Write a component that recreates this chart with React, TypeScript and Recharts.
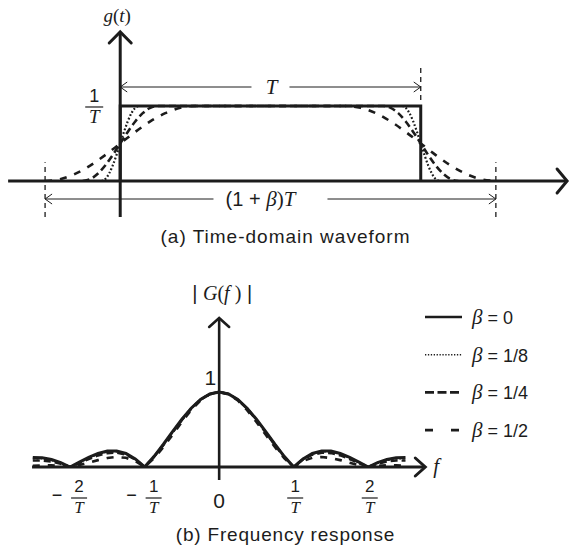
import React from "react";
import { Legend, Line, LineChart, ReferenceDot, ReferenceLine, XAxis, YAxis } from "recharts";

const SERIF = '"Liberation Serif", "DejaVu Serif", serif';
const SANS = '"Liberation Sans", Arial, sans-serif';
const INK = "#1c1c1c";

// (a) time-domain pulse: t in units of T, g in units of 1/T
const tBeta0 = [0, 0, 1, 1];
const gBeta0 = [0, 1, 1, 0];
const tBeta8 = [-0.0625, -0.05, -0.0375, -0.025, -0.0125, 0, 0.0125, 0.025, 0.0375, 0.05, 0.0625, 0.9375, 0.95, 0.9625, 0.975, 0.9875, 1, 1.0125, 1.025, 1.0375, 1.05, 1.0625];
const tBeta4 = [-0.125, -0.1, -0.075, -0.05, -0.025, 0, 0.025, 0.05, 0.075, 0.1, 0.125, 0.875, 0.9, 0.925, 0.95, 0.975, 1, 1.025, 1.05, 1.075, 1.1, 1.125];
const tBeta2 = [-0.25, -0.2, -0.15, -0.1, -0.05, 0, 0.05, 0.1, 0.15, 0.2, 0.25, 0.75, 0.8, 0.85, 0.9, 0.95, 1, 1.05, 1.1, 1.15, 1.2, 1.25];
const gEdges = [0, 0.0245, 0.0955, 0.2061, 0.3455, 0.5, 0.6545, 0.7939, 0.9045, 0.9755, 1, 1, 0.9755, 0.9045, 0.7939, 0.6545, 0.5, 0.3455, 0.2061, 0.0955, 0.0245, 0];

// (b) |G(f)|, f in units of 1/T
const fAxis = [-2.5, -2.375, -2.25, -2.125, -2, -1.875, -1.75, -1.625, -1.5, -1.375, -1.25, -1.125, -1, -0.875, -0.75, -0.625, -0.5, -0.375, -0.25, -0.125, 0, 0.125, 0.25, 0.375, 0.5, 0.625, 0.75, 0.875, 1, 1.125, 1.25, 1.375, 1.5, 1.625, 1.75, 1.875, 2, 2.125, 2.25, 2.375, 2.5];
const magBeta0 = [0.1273, 0.1238, 0.1, 0.0573, 0, 0.065, 0.1286, 0.181, 0.2122, 0.2139, 0.1801, 0.1083, 0, 0.1392, 0.3001, 0.4705, 0.6366, 0.7842, 0.9003, 0.9745, 1, 0.9745, 0.9003, 0.7842, 0.6366, 0.4705, 0.3001, 0.1392, 0, 0.1083, 0.1801, 0.2139, 0.2122, 0.181, 0.1286, 0.065, 0, 0.0573, 0.1, 0.1238, 0.1273];
const magBeta8 = [0.1161, 0.1139, 0.0928, 0.0536, 0, 0.0617, 0.1229, 0.1741, 0.2053, 0.208, 0.176, 0.1063, 0, 0.1376, 0.2976, 0.4678, 0.6343, 0.7826, 0.8995, 0.9743, 1, 0.9743, 0.8995, 0.7826, 0.6343, 0.4678, 0.2976, 0.1376, 0, 0.1063, 0.176, 0.208, 0.2053, 0.1741, 0.1229, 0.0617, 0, 0.0536, 0.0928, 0.1139, 0.1161];
const magBeta4 = [0.0866, 0.0876, 0.0734, 0.0436, 0, 0.0526, 0.107, 0.1546, 0.1856, 0.1912, 0.1642, 0.1005, 0, 0.1331, 0.2904, 0.4599, 0.6274, 0.7778, 0.897, 0.9736, 1, 0.9736, 0.897, 0.7778, 0.6274, 0.4599, 0.2904, 0.1331, 0, 0.1005, 0.1642, 0.1912, 0.1856, 0.1546, 0.107, 0.0526, 0, 0.0436, 0.0734, 0.0876, 0.0866];
const magBeta2 = [0.0171, 0.0222, 0.0227, 0.016, 0, 0.0253, 0.0576, 0.0917, 0.12, 0.1334, 0.1225, 0.0795, 0, 0.1159, 0.2625, 0.429, 0.6002, 0.7587, 0.8872, 0.9709, 1, 0.9709, 0.8872, 0.7587, 0.6002, 0.429, 0.2625, 0.1159, 0, 0.0795, 0.1225, 0.1334, 0.12, 0.0917, 0.0576, 0.0253, 0, 0.016, 0.0227, 0.0222, 0.0171];

const freqTicks = [-2, -1, 0, 1, 2];
const seriesNames = ["β = 0", "β = 1/8", "β = 1/4", "β = 1/2"];

// line looks, same order as seriesNames
const looks = [
  { w: 3, dash: undefined as string | undefined, legW: 2.6, legDash: undefined as string | undefined },
  { w: 2.2, dash: "1.8 2", legW: 1.6, legDash: "1.3 1.6" },
  { w: 2.6, dash: "7 4", legW: 2.6, legDash: "9 3.5" },
  { w: 2.6, dash: "7 8", legW: 2.6, legDash: "8 18" },
];

const pulse = (ts: number[], gs: number[]) => ts.map((t, i) => ({ t, g: gs[i] }));
const pulse0 = pulse(tBeta0, gBeta0);
const pulse8 = pulse(tBeta8, gEdges);
const pulse4 = pulse(tBeta4, gEdges);
const pulse2 = pulse(tBeta2, gEdges);
const spectrum = fAxis.map((f, i) => ({ f, b0: magBeta0[i], b8: magBeta8[i], b4: magBeta4[i], b2: magBeta2[i] }));

function chevron(x: number, y: number, ux: number, uy: number, len: number, half: number) {
  const px = -uy, py = ux;
  const bx = x - ux * len, by = y - uy * len;
  return `M${bx + px * half},${by + py * half} L${x},${y} L${bx - px * half},${by - py * half}`;
}

const axisArrow = (len: number, half: number, width: number) => (p: any) => {
  const { x1, y1, x2, y2 } = p;
  const d = Math.hypot(x2 - x1, y2 - y1) || 1;
  const ux = (x2 - x1) / d, uy = (y2 - y1) / d;
  return (
    <g>
      <line x1={x1} y1={y1} x2={x2 - ux * 1.5} y2={y2 - uy * 1.5} stroke={INK} strokeWidth={width} />
      <path d={chevron(x2, y2, ux, uy, len, half)} fill="none" stroke={INK} strokeWidth={width} strokeLinecap="round" />
    </g>
  );
};

const dimArrow = (gap: number, label: (cx: number, y: number) => React.ReactNode) => (p: any) => {
  const { x1, y1, x2 } = p;
  const cx = (x1 + x2) / 2;
  return (
    <g>
      <line x1={x1} y1={y1} x2={cx - gap} y2={y1} stroke={INK} strokeWidth={1} />
      <line x1={cx + gap} y1={y1} x2={x2} y2={y1} stroke={INK} strokeWidth={1} />
      <path d={chevron(x1, y1, -1, 0, 7, 5)} fill="none" stroke={INK} strokeWidth={1} />
      <path d={chevron(x2, y1, 1, 0, 7, 5)} fill="none" stroke={INK} strokeWidth={1} />
      {label(cx, y1)}
    </g>
  );
};

const FracTick = (p: any) => {
  const { x, y, payload } = p;
  const v = payload.value as number;
  if (v === 0) {
    return <text x={x} y={y + 33} textAnchor="middle" fontFamily={SANS} fontSize={21} fill={INK}>0</text>;
  }
  const neg = v < 0;
  const fx = neg ? x + 9 : x + 1.5;
  return (
    <g fill={INK}>
      {neg && <text x={x - 13} y={y + 26} textAnchor="middle" fontFamily={SANS} fontSize={18}>−</text>}
      <text x={fx} y={y + 17} textAnchor="middle" fontFamily={SANS} fontSize={17}>{Math.abs(v)}</text>
      <line x1={fx - 8} x2={fx + 8} y1={y + 23} y2={y + 23} stroke={INK} strokeWidth={1.2} />
      <text x={fx} y={y + 38} textAnchor="middle" fontFamily={SERIF} fontStyle="italic" fontSize={17}>T</text>
    </g>
  );
};

const LegendBox = (props: any) => {
  const items = [...(props.payload ?? [])].sort(
    (a: any, b: any) => seriesNames.indexOf(a.value) - seriesNames.indexOf(b.value)
  );
  return (
    <svg width={150} height={155}>
      {items.map((it: any, i: number) => {
        const k = seriesNames.indexOf(it.value);
        const lk = looks[k];
        const y = 12 + i * 37.7;
        return (
          <g key={it.value}>
            <line x1={5} x2={42} y1={y} y2={y} stroke={INK} strokeWidth={lk.legW} strokeDasharray={lk.legDash} />
            <text x={52} y={y + 7} fill={INK} fontFamily={SANS} fontSize={18}>
              <tspan fontFamily={SERIF} fontStyle="italic" fontSize={21}>β</tspan>
              {" " + String(it.value).slice(2)}
            </text>
          </g>
        );
      })}
    </svg>
  );
};

export default function App() {
  return (
    <div style={{ position: "absolute", left: 0, top: 0, width: 571, height: 555, background: "#fff" }}>
      <div style={{ position: "absolute", left: 0, top: 0 }}>
        <LineChart width={571} height={260} margin={{ top: 0, right: 0, bottom: 0, left: 0 }}>
          <XAxis
            type="number" dataKey="t" domain={[-0.4, 1.5]} allowDataOverflow
            tick={false} axisLine={false} tickLine={false} height={79}
            label={{ value: "(a) Time-domain waveform", position: "insideBottom", offset: 17, fill: INK, fontFamily: SANS, fontSize: 19, letterSpacing: 1 }}
          />
          <YAxis hide type="number" domain={[0, 2.413]} allowDataOverflow />
          <ReferenceLine segment={[{ x: -0.373, y: 0 }, { x: 1.487, y: 0 }]} ifOverflow="visible" shape={axisArrow(10, 12, 3)} />
          <ReferenceLine segment={[{ x: 0, y: -0.48 }, { x: 0, y: 1.987 }]} ifOverflow="visible" shape={axisArrow(11, 11, 3)} />
          <ReferenceLine segment={[{ x: 1, y: 1.08 }, { x: 1, y: 1.51 }]} ifOverflow="visible" stroke={INK} strokeWidth={1.3} strokeDasharray="5 4" />
          <ReferenceLine segment={[{ x: -0.25, y: -0.48 }, { x: -0.25, y: 0.25 }]} ifOverflow="visible" stroke={INK} strokeWidth={1.3} strokeDasharray="5 4" />
          <ReferenceLine segment={[{ x: 1.25, y: -0.48 }, { x: 1.25, y: 0.25 }]} ifOverflow="visible" stroke={INK} strokeWidth={1.3} strokeDasharray="5 4" />
          <ReferenceLine
            segment={[{ x: 0, y: 1.253 }, { x: 1, y: 1.253 }]} ifOverflow="visible"
            shape={dimArrow(19, (cx, y) => (
              <text x={cx + 1} y={y + 7} textAnchor="middle" fontFamily={SERIF} fontStyle="italic" fontSize={21} fill={INK}>T</text>
            ))}
          />
          <ReferenceLine
            segment={[{ x: -0.25, y: -0.24 }, { x: 1.25, y: -0.24 }]} ifOverflow="visible"
            shape={dimArrow(57, (cx, y) => (
              <text x={cx - 10} y={y + 7} textAnchor="middle" fill={INK} fontSize={21}>
                <tspan fontFamily={SANS} fontSize={20}>(1 + </tspan>
                <tspan fontFamily={SERIF} fontStyle="italic">β</tspan>
                <tspan fontFamily={SERIF}>)</tspan>
                <tspan fontFamily={SERIF} fontStyle="italic">T</tspan>
              </text>
            ))}
          />
          <ReferenceDot
            x={0} y={1.987} ifOverflow="visible"
            shape={(p: any) => (
              <text x={p.cx - 3} y={p.cy - 10} textAnchor="middle" fontFamily={SERIF} fontSize={19} fill={INK}>
                <tspan fontStyle="italic">g</tspan>(<tspan fontStyle="italic">t</tspan>)
              </text>
            )}
          />
          <ReferenceDot
            x={0} y={1} ifOverflow="visible"
            shape={(p: any) => (
              <g fill={INK}>
                <text x={p.cx - 26} y={p.cy - 4} textAnchor="middle" fontFamily={SANS} fontSize={18}>1</text>
                <line x1={p.cx - 35} x2={p.cx - 17} y1={p.cy + 1} y2={p.cy + 1} stroke={INK} strokeWidth={1.2} />
                <text x={p.cx - 26} y={p.cy + 17} textAnchor="middle" fontFamily={SERIF} fontStyle="italic" fontSize={19}>T</text>
              </g>
            )}
          />
          <Line data={pulse2} dataKey="g" type="monotone" stroke={INK} strokeWidth={looks[3].w} strokeDasharray={looks[3].dash} dot={false} activeDot={false} isAnimationActive={false} />
          <Line data={pulse4} dataKey="g" type="monotone" stroke={INK} strokeWidth={looks[2].w} strokeDasharray={looks[2].dash} dot={false} activeDot={false} isAnimationActive={false} />
          <Line data={pulse8} dataKey="g" type="monotone" stroke={INK} strokeWidth={looks[1].w} strokeDasharray={looks[1].dash} dot={false} activeDot={false} isAnimationActive={false} />
          <Line data={pulse0} dataKey="g" type="linear" stroke={INK} strokeWidth={looks[0].w} dot={false} activeDot={false} isAnimationActive={false} />
        </LineChart>
      </div>

      <div style={{ position: "absolute", left: 0, top: 260 }}>
        <LineChart width={571} height={295} data={spectrum} margin={{ top: 0, right: 0, bottom: 0, left: 0 }}>
          <XAxis
            type="number" dataKey="f" domain={[-2.94, 4.72]} allowDataOverflow
            ticks={freqTicks} interval={0} tick={<FracTick />} axisLine={false} tickLine={false} height={88}
            label={{ value: "(b) Frequency response", position: "insideBottom", offset: 14, fill: INK, fontFamily: SANS, fontSize: 19, letterSpacing: 0.8 }}
          />
          <YAxis hide type="number" domain={[0, 2.76]} allowDataOverflow />
          <Legend layout="vertical" align="center" verticalAlign="middle" content={<LegendBox />} wrapperStyle={{ left: 420, top: 45, width: 150, height: 155 }} />
          <ReferenceLine segment={[{ x: -2.51, y: 0 }, { x: 2.765, y: 0 }]} ifOverflow="visible" shape={axisArrow(10, 9, 3)} />
          <ReferenceLine segment={[{ x: 0, y: -0.173 }, { x: 0, y: 1.987 }]} ifOverflow="visible" shape={axisArrow(9, 10, 2.6)} />
          <ReferenceDot
            x={0} y={1.987} ifOverflow="visible"
            shape={(p: any) => (
              <text x={p.cx + 3} y={p.cy - 18} textAnchor="middle" fontFamily={SERIF} fontSize={20} fill={INK}>
                <tspan fontFamily={SANS}>| </tspan><tspan fontStyle="italic">G</tspan>(<tspan fontStyle="italic">f</tspan> )<tspan fontFamily={SANS}> |</tspan>
              </text>
            )}
          />
          <ReferenceDot
            x={0} y={1} ifOverflow="visible"
            shape={(p: any) => (
              <text x={p.cx - 3} y={p.cy - 7} textAnchor="end" fontFamily={SANS} fontSize={21} fill={INK}>1</text>
            )}
          />
          <ReferenceDot
            x={2.765} y={0} ifOverflow="visible"
            shape={(p: any) => (
              <text x={p.cx + 8} y={p.cy + 6} fontFamily={SERIF} fontStyle="italic" fontSize={21} fill={INK}>f</text>
            )}
          />
          <Line name={seriesNames[3]} dataKey="b2" type="linear" stroke={INK} strokeWidth={looks[3].w} strokeDasharray={looks[3].dash} dot={false} activeDot={false} isAnimationActive={false} />
          <Line name={seriesNames[2]} dataKey="b4" type="linear" stroke={INK} strokeWidth={looks[2].w} strokeDasharray={looks[2].dash} dot={false} activeDot={false} isAnimationActive={false} />
          <Line name={seriesNames[1]} dataKey="b8" type="linear" stroke={INK} strokeWidth={looks[1].w} strokeDasharray={looks[1].dash} dot={false} activeDot={false} isAnimationActive={false} />
          <Line name={seriesNames[0]} dataKey="b0" type="linear" stroke={INK} strokeWidth={looks[0].w} dot={false} activeDot={false} isAnimationActive={false} />
        </LineChart>
      </div>
    </div>
  );
}
